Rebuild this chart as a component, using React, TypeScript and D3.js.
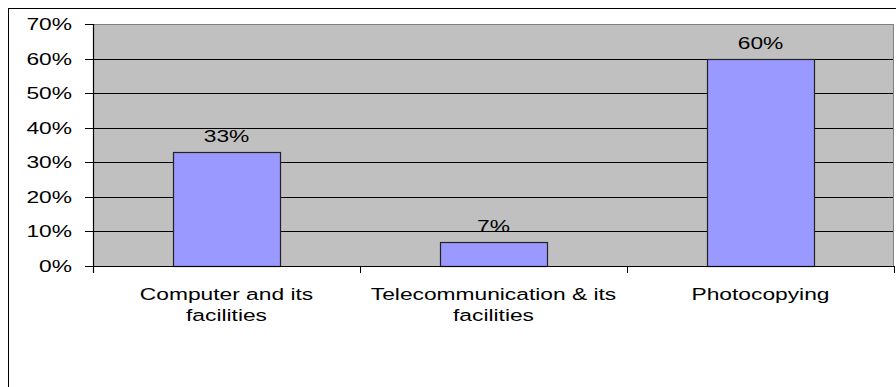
import React from "react";
import * as d3 from "d3";

const categories: string[][] = [
  ["Computer and its", "facilities"],
  ["Telecommunication & its", "facilities"],
  ["Photocopying"],
];
const values: number[] = [0.33, 0.07, 0.6];
const yTicks: number[] = [0, 0.1, 0.2, 0.3, 0.4, 0.5, 0.6, 0.7];

const W = 896;
const H = 387;
const plot = { left: 93, right: 894, top: 24, bottom: 266 };
const FONT = "'Liberation Sans', Arial, sans-serif";
const FS = 17;
const SX = 1.34;

export default function App() {
  const x = d3
    .scaleBand<number>()
    .domain(d3.range(categories.length))
    .range([plot.left, plot.right])
    .paddingInner(0.6)
    .paddingOuter(0.3);
  const step = (plot.right - plot.left) / categories.length;
  const y = d3.scaleLinear().domain([0, 0.7]).range([plot.bottom, plot.top]);
  const fmt = d3.format(".0%");

  const Txt = ({ tx, ty, anchor, children }: any) => (
    <text
      transform={`translate(${tx},${ty}) scale(${SX},1)`}
      textAnchor={anchor}
      fontFamily={FONT}
      fontSize={FS}
      fill="#000"
    >
      {children}
    </text>
  );

  return (
    <svg
      width={W}
      height={H}
      style={{ position: "absolute", left: 0, top: 0, background: "#fff" }}
    >
      <rect x={8.5} y={8.5} width={1000} height={1000} fill="#fff" stroke="#000" strokeWidth={1} />
      <rect
        x={plot.left}
        y={plot.top}
        width={plot.right - plot.left}
        height={plot.bottom - plot.top}
        fill="#C0C0C0"
      />
      {yTicks.map((t) => (
        <g key={t}>
          {t > 0 && t < 0.7 && (
            <line x1={plot.left} x2={plot.right} y1={Math.round(y(t)) + 0.5} y2={Math.round(y(t)) + 0.5} stroke="#000" strokeWidth={1} />
          )}
          <line x1={85} x2={plot.left} y1={Math.round(y(t)) + 0.5} y2={Math.round(y(t)) + 0.5} stroke="#000" strokeWidth={1} />
          <Txt tx={72} ty={y(t) + 6} anchor="end">{fmt(t)}</Txt>
        </g>
      ))}
      <line x1={plot.left} x2={plot.right} y1={plot.top + 0.5} y2={plot.top + 0.5} stroke="#808080" strokeWidth={1} />
      <line x1={plot.right - 0.5} x2={plot.right - 0.5} y1={plot.top} y2={plot.bottom} stroke="#808080" strokeWidth={1} />
      {values.map((v, i) => (
        <g key={i}>
          <rect
            x={Math.round(x(i)!) + 0.5}
            y={Math.round(y(v)) + 0.5}
            width={Math.round(x.bandwidth())}
            height={Math.round(y(0)) - Math.round(y(v))}
            fill="#9999FF"
            stroke="#222"
            strokeWidth={1.2}
          />
          <Txt tx={x(i)! + x.bandwidth() / 2} ty={y(v) - 9.5} anchor="middle">{fmt(v)}</Txt>
        </g>
      ))}
      <line x1={plot.left + 0.5} x2={plot.left + 0.5} y1={plot.top} y2={plot.bottom + 7} stroke="#000" strokeWidth={1.2} />
      <line x1={plot.left} x2={plot.right} y1={plot.bottom + 0.5} y2={plot.bottom + 0.5} stroke="#000" strokeWidth={1.2} />
      {d3.range(categories.length + 1).map((i) => (
        <line key={i} x1={plot.left + i * step + 0.5} x2={plot.left + i * step + 0.5} y1={plot.bottom} y2={plot.bottom + 7} stroke="#000" strokeWidth={1} />
      ))}
      {categories.map((lines, i) =>
        lines.map((ln, j) => (
          <Txt key={`${i}-${j}`} tx={plot.left + (i + 0.5) * step} ty={300 + j * 21} anchor="middle">
            {ln}
          </Txt>
        ))
      )}
    </svg>
  );
}
